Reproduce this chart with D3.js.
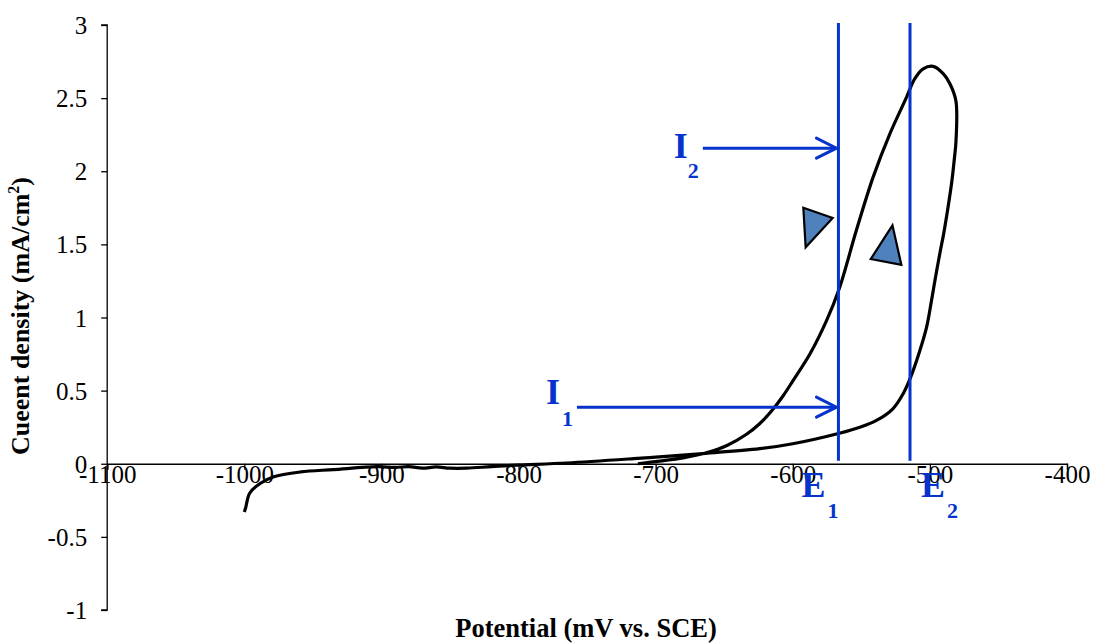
<!DOCTYPE html>
<html><head><meta charset="utf-8">
<script src="https://cdn.jsdelivr.net/npm/d3@7"></script>
<style>body{margin:0;background:#fff}svg{display:block}</style>
</head><body>
<svg id="c" width="1094" height="644"></svg>
<script>
// Data: potential (mV vs. SCE) and current density (mA/cm2), one continuous scan
const potential = [-1000,-999,-996,-988.5,-979,-959,-935,-903,-890,-880,-870,-860,-850,-838,-820,-801,-765,-716,-668,-624,-600,-566,-551,-539,-527,-519.5,-514,-507.3,-502.4,-498.8,-496,-492.5,-490,-487,-484,-482,-481,-481,-485.4,-490.3,-497.6,-504.9,-511,-517,-529.2,-541.4,-553.5,-566,-575.3,-587.5,-599.7,-607,-614.3,-624,-634,-648,-663,-680,-697,-713];
const current   = [-0.33,-0.30,-0.20,-0.135,-0.09,-0.056,-0.04,-0.02,-0.025,-0.02,-0.03,-0.022,-0.03,-0.03,-0.02,-0.01,0.005,0.035,0.068,0.103,0.137,0.209,0.25,0.296,0.376,0.479,0.592,0.774,0.934,1.117,1.27,1.45,1.57,1.74,1.93,2.1,2.2,2.48,2.598,2.667,2.717,2.70,2.633,2.507,2.256,1.96,1.6,1.2,0.98,0.75,0.57,0.465,0.375,0.275,0.2,0.125,0.075,0.04,0.018,0.0];
const xTicks = [-1100,-1000,-900,-800,-700,-600,-500,-400];
const yTicks = [-1,-0.5,0,0.5,1,1.5,2,2.5,3];
const ePotentials = [-566.7,-514.5];
const eLabels = [["E","1"],["E","2"]];
const iCurrents = [2.158,0.387];
const iStarts = [-665.6,-757.4];
const iLabels = [["I","2"],["I","1"]];
const triangles = [[[-592.3,1.75],[-570.9,1.68],[-590.6,1.48]],[[-527.3,1.63],[-520.8,1.36],[-543.1,1.40]]];

// layout
const eLabelDx = [-37, 11];
const iLabelLayout = [{dx:-29, dy:9.5, subDx:0, subDy:20.5},{dx:-31, dy:-3.5, subDx:2, subDy:22}];

const svg = d3.select("#c");
const x = d3.scaleLinear().domain([-1100,-400]).range([107.2,1067]);
const y = d3.scaleLinear().domain([-1,3]).range([610,25]);
const blue = "#0633cc";
const serif = "'Liberation Serif','Times New Roman',Times,serif";

// x axis at y=0
const xa = svg.append("g").attr("transform",`translate(0,${y(0)})`)
  .call(d3.axisBottom(x).tickValues(xTicks).tickSize(6).tickFormat(d=>String(d)));
xa.attr("font-family",serif).attr("font-size",25);
xa.select(".domain").attr("stroke","#000").attr("stroke-width",1.3);
xa.selectAll(".tick line").attr("stroke","#000").attr("stroke-width",1.3);
xa.selectAll(".tick text").attr("fill","#000").attr("dy",null).attr("y",19);

const ya = svg.append("g").attr("transform",`translate(${x(-1100)},0)`)
  .call(d3.axisLeft(y).tickValues(yTicks).tickSize(6).tickFormat(d=>String(d)));
ya.attr("font-family",serif).attr("font-size",25);
ya.select(".domain").attr("stroke","#000").attr("stroke-width",1.3).attr("d",`M-6,${y(3)}H0V${y(-1)}H-6`);
ya.selectAll(".tick line").attr("stroke","#000").attr("stroke-width",1.3);
ya.selectAll(".tick text").attr("fill","#000").attr("x",-20).attr("dy","0.34em");

// curve
const pts = potential.map((p,i)=>[p,current[i]]);
svg.append("path").datum(pts)
  .attr("d", d3.line().x(d=>x(d[0])).y(d=>y(d[1])).curve(d3.curveCatmullRom.alpha(0.5)))
  .attr("fill","none").attr("stroke","#000").attr("stroke-width",3.2).attr("stroke-linejoin","round");

// vertical lines E1, E2
ePotentials.forEach((v,i)=>{
  svg.append("line").attr("x1",x(v)).attr("x2",x(v)).attr("y1",y(3)-2).attr("y2",y(0)-3)
    .attr("stroke",blue).attr("stroke-width",3);
  const t = svg.append("text").attr("x",x(v)+eLabelDx[i]).attr("y",497).attr("font-family",serif).attr("font-weight","bold").attr("fill",blue);
  t.append("tspan").attr("font-size",36).text(eLabels[i][0]);
  t.append("tspan").attr("font-size",22).attr("dy",21).attr("dx",2).text(eLabels[i][1]);
});
// arrows I1, I2
iCurrents.forEach((c,i)=>{
  const x0 = x(iStarts[i]), x1 = x(ePotentials[0])-2, yy = y(c), L = iLabelLayout[i];
  svg.append("line").attr("x1",x0).attr("x2",x1).attr("y1",yy).attr("y2",yy).attr("stroke",blue).attr("stroke-width",3);
  svg.append("path").attr("d",`M${x1-20},${yy-10}L${x1},${yy}L${x1-20},${yy+10}`).attr("fill","none").attr("stroke",blue).attr("stroke-width",3).attr("stroke-linecap","round");
  const t = svg.append("text").attr("x",x0+L.dx).attr("y",yy+L.dy).attr("font-family",serif).attr("font-weight","bold").attr("fill",blue);
  t.append("tspan").attr("font-size",36).text(iLabels[i][0]);
  t.append("tspan").attr("font-size",22).attr("dy",L.subDy).attr("dx",L.subDx).text(iLabels[i][1]);
});
// direction triangles
triangles.forEach(tr=>{
  svg.append("path").attr("d", "M"+tr.map(p=>[x(p[0]),y(p[1])].join(",")).join("L")+"Z")
    .attr("fill","#4f81bd").attr("stroke","#000").attr("stroke-width",2.2);
});

// axis titles
svg.append("text").attr("x",586).attr("y",637).attr("text-anchor","middle").attr("font-family",serif)
  .attr("font-weight","bold").attr("font-size",26.5).text("Potential (mV vs. SCE)");
const yt = svg.append("text").attr("transform","translate(29,316) rotate(-90)").attr("text-anchor","middle")
  .attr("font-family",serif).attr("font-weight","bold").attr("font-size",26);
yt.append("tspan").text("Cueent density (mA/cm");
yt.append("tspan").attr("font-size",16).attr("dy",-10).text("2");
yt.append("tspan").attr("dy",10).text(")");
</script>
</body></html>
